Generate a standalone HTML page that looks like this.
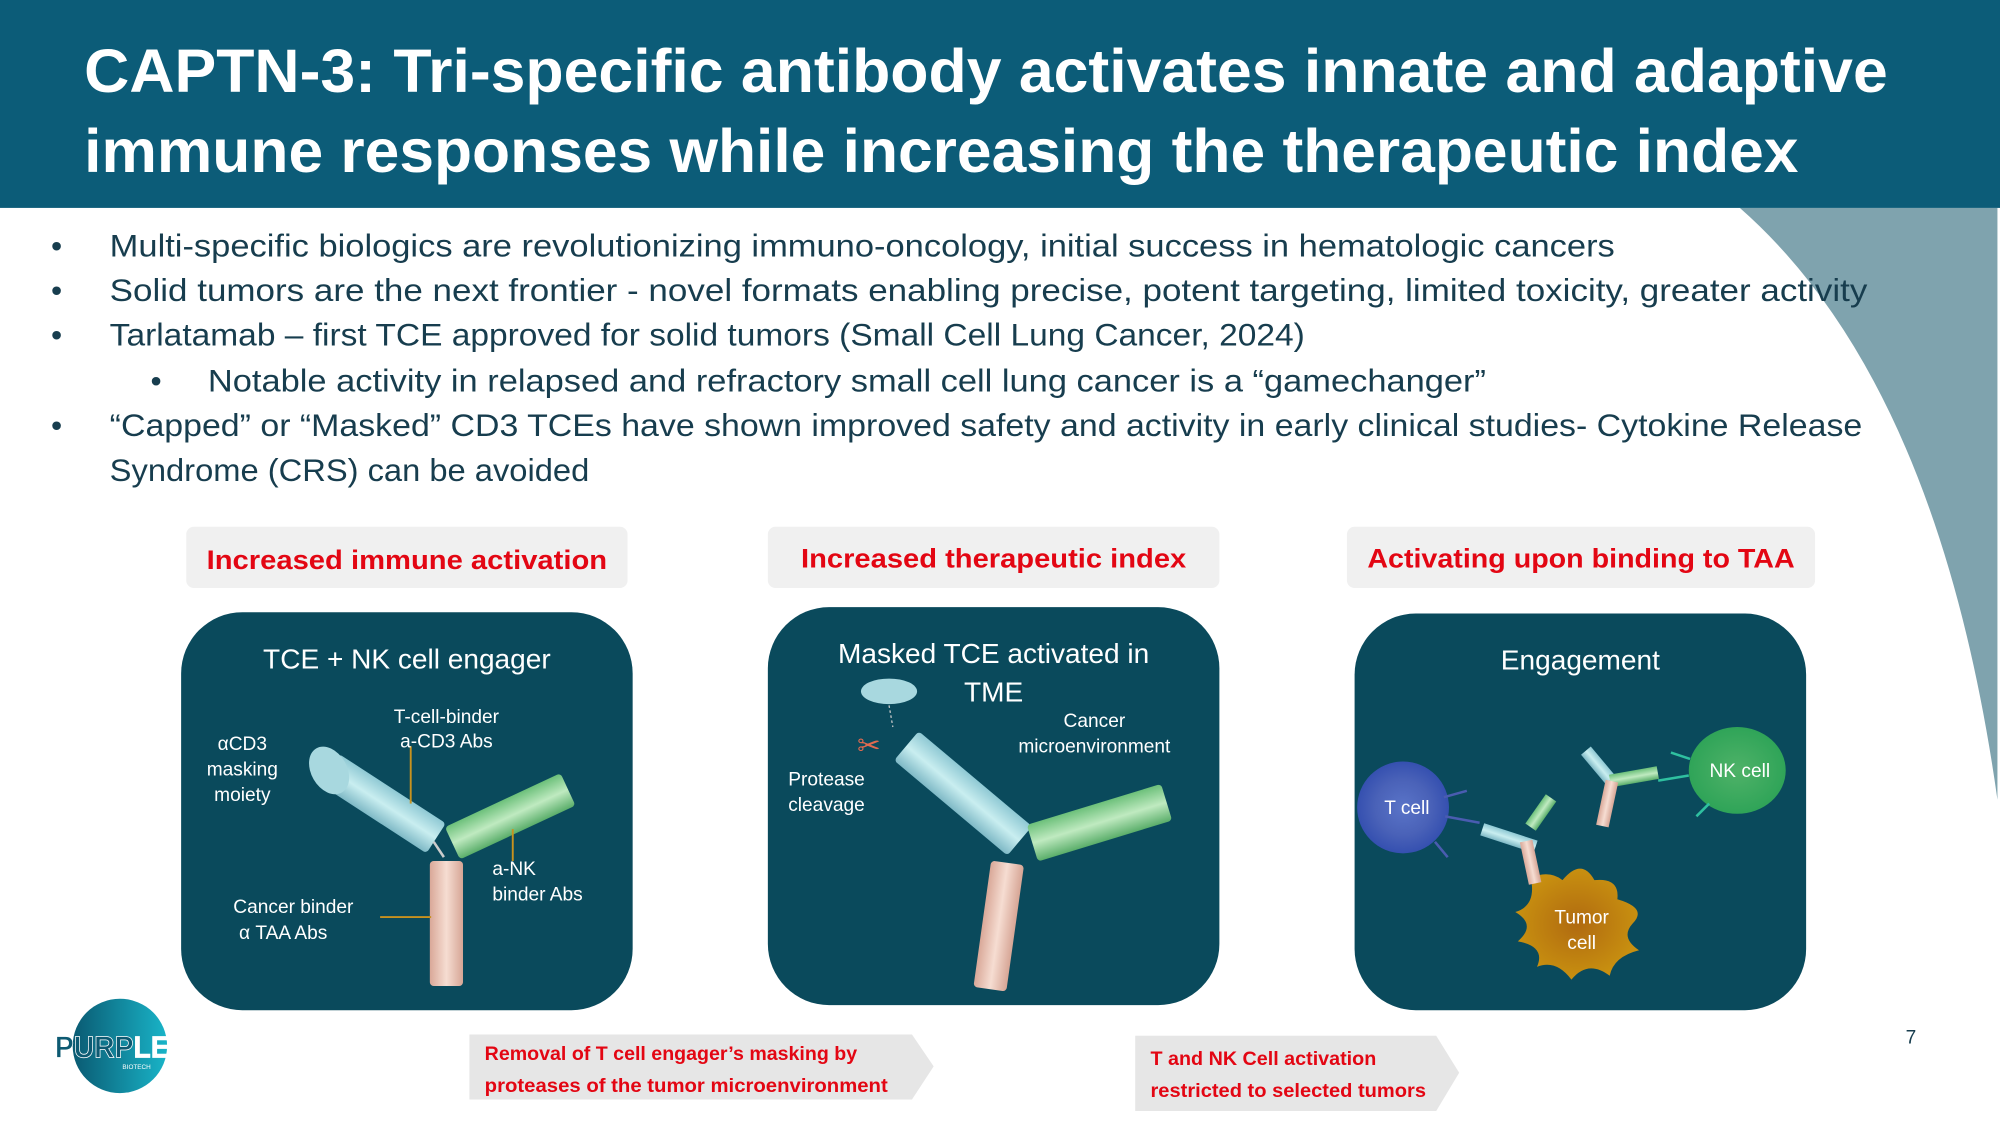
<!DOCTYPE html>
<html><head><meta charset="utf-8"><style>html,body{margin:0;padding:0;background:#fff}svg{display:block}</style></head><body>
<svg width="2000" height="1125" viewBox="0 0 1568 882" xmlns="http://www.w3.org/2000/svg" font-family="Liberation Sans, sans-serif">
<defs>
<linearGradient id="bl" x1="0" y1="0" x2="0" y2="1"><stop offset="0" stop-color="#8fc9d4"/><stop offset=".5" stop-color="#c9eef0"/><stop offset="1" stop-color="#7fb9c6"/></linearGradient>
<linearGradient id="gr" x1="0" y1="0" x2="0" y2="1"><stop offset="0" stop-color="#6cc07a"/><stop offset=".5" stop-color="#bfeac0"/><stop offset="1" stop-color="#5aae6a"/></linearGradient>
<linearGradient id="pk" x1="0" y1="0" x2="1" y2="0"><stop offset="0" stop-color="#d9a898"/><stop offset=".5" stop-color="#f6ddd2"/><stop offset="1" stop-color="#d6a595"/></linearGradient>
<radialGradient id="tc"><stop offset="0" stop-color="#5a74c8"/><stop offset=".6" stop-color="#4a62b8"/><stop offset="1" stop-color="#3550b0"/></radialGradient>
<radialGradient id="nk"><stop offset="0" stop-color="#4fb268"/><stop offset="1" stop-color="#2fa458"/></radialGradient>
<radialGradient id="tu"><stop offset="0" stop-color="#b06a10"/><stop offset="1" stop-color="#c89010"/></radialGradient>
<linearGradient id="lg" x1="0" y1="0" x2="1" y2="0"><stop offset="0" stop-color="#0a5a72"/><stop offset="1" stop-color="#19b4c8"/></linearGradient>
</defs>
<!-- swoosh -->
<path d="M1364 163 Q1520 300 1566 627 L1566 163 Z" fill="#7fa3ae"/>
<rect x="0" y="0" width="1568" height="163" fill="#0c5c78"/>
<text x="66" y="72" fill="#fff" font-weight="bold" font-size="48" textLength="1414" lengthAdjust="spacingAndGlyphs">CAPTN-3: Tri-specific antibody activates innate and adaptive</text>
<text x="66" y="135" fill="#fff" font-weight="bold" font-size="48" textLength="1344" lengthAdjust="spacingAndGlyphs">immune responses while increasing the therapeutic index</text>
<g fill="#173d4e" font-size="25">
<text x="40" y="201">•</text><text x="86" y="201" textLength="1180" lengthAdjust="spacingAndGlyphs">Multi-specific biologics are revolutionizing immuno-oncology, initial success in hematologic cancers</text>
<text x="40" y="236">•</text><text x="86" y="236" textLength="1378" lengthAdjust="spacingAndGlyphs">Solid tumors are the next frontier - novel formats enabling precise, potent targeting, limited toxicity, greater activity</text>
<text x="40" y="271">•</text><text x="86" y="271" textLength="937" lengthAdjust="spacingAndGlyphs">Tarlatamab – first TCE approved for solid tumors (Small Cell Lung Cancer, 2024)</text>
<text x="118" y="307">•</text><text x="163" y="307" textLength="1002" lengthAdjust="spacingAndGlyphs">Notable activity in relapsed and refractory small cell lung cancer is a “gamechanger”</text>
<text x="40" y="342">•</text><text x="86" y="342" textLength="1374" lengthAdjust="spacingAndGlyphs">“Capped” or “Masked” CD3 TCEs have shown improved safety and activity in early clinical studies- Cytokine Release</text>
<text x="86" y="377" textLength="376" lengthAdjust="spacingAndGlyphs">Syndrome (CRS) can be avoided</text>
</g>
<!-- red labels -->
<g font-weight="bold" font-size="21" fill="#e30613">
<rect x="146" y="413" width="346" height="48" rx="6" fill="#f0f0f0"/><text x="162" y="446" textLength="314" lengthAdjust="spacingAndGlyphs">Increased immune activation</text>
<rect x="602" y="413" width="354" height="48" rx="6" fill="#f0f0f0"/><text x="628" y="445" textLength="302" lengthAdjust="spacingAndGlyphs">Increased therapeutic index</text>
<rect x="1056" y="413" width="367" height="48" rx="6" fill="#f0f0f0"/><text x="1072" y="445" textLength="335" lengthAdjust="spacingAndGlyphs">Activating upon binding to TAA</text>
</g>
<!-- panels -->
<rect x="142" y="480" width="354" height="312" rx="48" fill="#0a4a5c"/>
<rect x="602" y="476" width="354" height="312" rx="48" fill="#0a4a5c"/>
<rect x="1062" y="481" width="354" height="311" rx="48" fill="#0a4a5c"/>
<g fill="#fff">
<text x="319" y="524" text-anchor="middle" font-size="22">TCE + NK cell engager</text>
<text x="779" y="520" text-anchor="middle" font-size="22">Masked TCE activated in</text>
<text x="779" y="550" text-anchor="middle" font-size="22">TME</text>
<text x="1239" y="525" text-anchor="middle" font-size="22">Engagement</text>
</g>
<!-- panel 1 antibody -->
<g>
<rect x="337" y="675" width="26" height="98" fill="url(#pk)" rx="3"/>
<g transform="translate(300,630) rotate(33)"><rect x="-50" y="-14" width="100" height="28" fill="url(#bl)" rx="3"/></g>
<ellipse cx="258" cy="604" rx="14" ry="20" fill="#a8d8df" transform="rotate(-30 258 604)"/>
<g transform="translate(400,640) rotate(-25)"><rect x="-50" y="-14" width="100" height="28" fill="url(#gr)" rx="3"/></g>
<line x1="340" y1="660" x2="348" y2="672" stroke="#ccc" stroke-width="2"/>
<g stroke="#c8921e" stroke-width="1.5"><line x1="322" y1="585" x2="322" y2="630"/><line x1="402" y1="650" x2="402" y2="675"/><line x1="298" y1="719" x2="338" y2="719"/></g>
<g fill="#fff" font-size="15">
<text x="190" y="588" text-anchor="middle">αCD3</text><text x="190" y="608" text-anchor="middle">masking</text><text x="190" y="628" text-anchor="middle">moiety</text>
<text x="350" y="567" text-anchor="middle">T-cell-binder</text><text x="350" y="586" text-anchor="middle">a-CD3 Abs</text>
<text x="386" y="686">a-NK</text><text x="386" y="706">binder Abs</text>
<text x="230" y="716" text-anchor="middle">Cancer binder</text><text x="222" y="736" text-anchor="middle">α TAA Abs</text>
</g>
</g>
<!-- panel 2 -->
<g>
<g transform="translate(783,726) rotate(8)"><rect x="-13" y="-50" width="26" height="100" fill="url(#pk)" rx="3"/></g>
<g transform="translate(755,622) rotate(40)"><rect x="-58" y="-15" width="116" height="30" fill="url(#bl)" rx="3"/></g>
<g transform="translate(862,645) rotate(-17)"><rect x="-55" y="-15" width="110" height="30" fill="url(#gr)" rx="3"/></g>
<ellipse cx="697" cy="542" rx="22" ry="10" fill="#a8d8df"/>
<line x1="697" y1="553" x2="700" y2="570" stroke="#ccc" stroke-width="1" stroke-dasharray="2 2"/>
<text x="672" y="592" fill="#e06a50" font-size="22">✂</text>
<g fill="#fff" font-size="15">
<text x="858" y="570" text-anchor="middle">Cancer</text><text x="858" y="590" text-anchor="middle">microenvironment</text>
<text x="648" y="616" text-anchor="middle">Protease</text><text x="648" y="636" text-anchor="middle">cleavage</text>
</g>
</g>
<!-- panel 3 -->
<g>
<circle cx="1100" cy="633" r="36" fill="url(#tc)"/>
<ellipse cx="1362" cy="604" rx="38" ry="34" fill="url(#nk)"/>
<path d="M1200 688 Q1215 682 1225 690 Q1240 672 1250 690 Q1270 688 1268 705 Q1292 712 1280 724 Q1270 735 1285 745 Q1265 750 1262 765 Q1245 752 1232 768 Q1220 752 1205 758 Q1212 742 1190 738 Q1205 725 1188 715 Q1205 710 1200 688 Z" fill="url(#tu)"/>
<g stroke="#4a5cb0" stroke-width="2"><line x1="1132" y1="625" x2="1150" y2="620"/><line x1="1133" y1="640" x2="1160" y2="645"/><line x1="1125" y1="660" x2="1135" y2="672"/></g>
<g stroke="#2fc0a0" stroke-width="2"><line x1="1325" y1="595" x2="1310" y2="590"/><line x1="1324" y1="608" x2="1300" y2="612"/><line x1="1340" y1="630" x2="1330" y2="640"/></g>
<g transform="translate(1183,657) rotate(18)"><rect x="-22" y="-5" width="44" height="10" fill="url(#bl)"/></g>
<g transform="translate(1208,637) rotate(-55)"><rect x="-14" y="-5" width="28" height="10" fill="url(#gr)"/></g>
<g transform="translate(1200,676) rotate(-12)"><rect x="-5" y="-17" width="10" height="34" fill="url(#pk)"/></g>
<g transform="translate(1253,600) rotate(50)"><rect x="-15" y="-5" width="30" height="10" fill="url(#bl)"/></g>
<g transform="translate(1281,609) rotate(-10)"><rect x="-19" y="-5" width="38" height="10" fill="url(#gr)"/></g>
<g transform="translate(1260,630) rotate(12)"><rect x="-5" y="-18" width="10" height="36" fill="url(#pk)"/></g>
<g fill="#fff" font-size="15"><text x="1103" y="638" text-anchor="middle">T cell</text><text x="1364" y="609" text-anchor="middle">NK cell</text>
<text x="1240" y="724" text-anchor="middle">Tumor</text><text x="1240" y="744" text-anchor="middle">cell</text></g>
</g>
<!-- bottom banners -->
<path d="M368 811 L715 811 L732 836 L715 862 L368 862 Z" fill="#e6e6e6"/>
<g fill="#e30613" font-weight="bold" font-size="15"><text x="380" y="831" textLength="292" lengthAdjust="spacingAndGlyphs">Removal of T cell engager’s masking by</text><text x="380" y="856" textLength="316" lengthAdjust="spacingAndGlyphs">proteases of the tumor microenvironment</text></g>
<path d="M890 812 L1126 812 L1144 841 L1126 871 L890 871 Z" fill="#e6e6e6"/>
<g fill="#e30613" font-weight="bold" font-size="15"><text x="902" y="835" textLength="177" lengthAdjust="spacingAndGlyphs">T and NK Cell activation</text><text x="902" y="860" textLength="216" lengthAdjust="spacingAndGlyphs">restricted to selected tumors</text></g>
<!-- logo -->
<circle cx="94" cy="820" r="37" fill="url(#lg)"/>
<text x="43" y="829" font-weight="bold" font-size="24" textLength="90" lengthAdjust="spacingAndGlyphs" stroke="#fff" stroke-width="0.6"><tspan fill="#0d5a72">PURP</tspan><tspan fill="#fff">LE</tspan></text>
<text x="96" y="838" fill="#fff" font-size="5">BIOTECH</text>
<text x="1494" y="818" fill="#173d4e" font-size="15">7</text>
</svg>
</body></html>
